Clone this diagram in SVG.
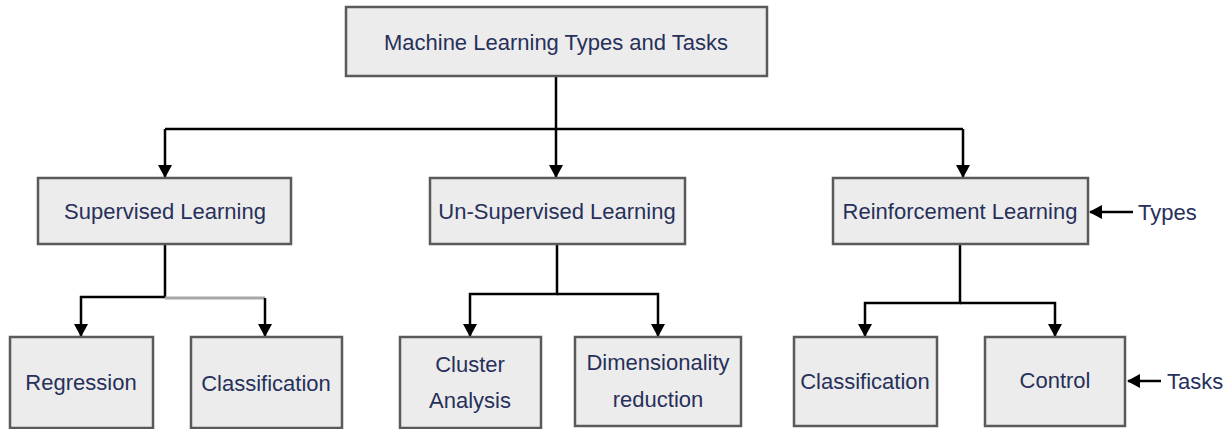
<svg xmlns="http://www.w3.org/2000/svg" width="1227" height="429" viewBox="0 0 1227 429">
<style>
.box{fill:#ececec;stroke:#5a5a5a;stroke-width:2.5}
.t{font-family:"Liberation Sans",Arial,sans-serif;font-size:22px;fill:#27305a;text-anchor:middle}
.tl{font-family:"Liberation Sans",Arial,sans-serif;font-size:22px;fill:#27305a;text-anchor:start}
.ln{fill:none;stroke:#000;stroke-width:2.5}
.lg{fill:none;stroke:#a8a8a8;stroke-width:3}
</style>
<defs>
<marker id="ah" viewBox="0 0 13 14" refX="12" refY="7" markerWidth="13" markerHeight="14" markerUnits="userSpaceOnUse" orient="auto">
<path d="M0,0 L13,7 L0,14 Z" fill="#000"/>
</marker>
</defs>
<rect width="1227" height="429" fill="#fff"/>
<g id="connectors">
<path class="ln" d="M556,76 V129"/>
<path class="ln" d="M165,129 H963" stroke-width="3"/>
<path class="ln" d="M556,129 V177" marker-end="url(#ah)"/>
<path class="ln" d="M165,129 V177" marker-end="url(#ah)"/>
<path class="ln" d="M963,129 V177" marker-end="url(#ah)"/>
<path class="ln" d="M165,245 V297 H81 V336" marker-end="url(#ah)"/>
<path class="lg" d="M165,298 H265"/>
<path class="ln" d="M265,298 V336" marker-end="url(#ah)"/>
<path class="ln" d="M557,245 V294 H470 V336" marker-end="url(#ah)"/>
<path class="ln" d="M557,294 H658 V336" marker-end="url(#ah)"/>
<path class="ln" d="M960,245 V303 H865 V336" marker-end="url(#ah)"/>
<path class="ln" d="M960,303 H1055 V336" marker-end="url(#ah)"/>
<path class="ln" d="M1133,212 H1090" marker-end="url(#ah)"/>
<path class="ln" d="M1161,381 H1128" marker-end="url(#ah)"/>
</g>
<g id="root">
<rect class="box" x="346" y="7" width="421" height="69"/>
<text class="t" x="556" y="49.5">Machine Learning Types and Tasks</text>
</g>
<g id="supervised">
<rect class="box" x="38" y="178" width="253" height="66"/>
<text class="t" x="165" y="219">Supervised Learning</text>
</g>
<g id="unsupervised">
<rect class="box" x="430" y="178" width="255" height="66"/>
<text class="t" x="557" y="219">Un-Supervised Learning</text>
</g>
<g id="reinforcement">
<rect class="box" x="833" y="178" width="255" height="66"/>
<text class="t" x="960" y="219">Reinforcement Learning</text>
</g>
<g id="regression">
<rect class="box" x="10" y="337" width="143" height="91"/>
<text class="t" x="81" y="390">Regression</text>
</g>
<g id="classification1">
<rect class="box" x="191" y="337" width="151" height="91"/>
<text class="t" x="266" y="391">Classification</text>
</g>
<g id="cluster">
<rect class="box" x="400" y="337" width="141" height="91"/>
<text class="t" x="470" y="372">Cluster</text>
<text class="t" x="470" y="408">Analysis</text>
</g>
<g id="dimensionality">
<rect class="box" x="575" y="337" width="166" height="89"/>
<text class="t" x="658" y="370">Dimensionality</text>
<text class="t" x="658" y="407">reduction</text>
</g>
<g id="classification2">
<rect class="box" x="794" y="337" width="143" height="89"/>
<text class="t" x="865" y="389">Classification</text>
</g>
<g id="control">
<rect class="box" x="985" y="337" width="140" height="89"/>
<text class="t" x="1055" y="388">Control</text>
</g>
<g id="types-label">
<text class="tl" x="1138" y="220">Types</text>
</g>
<g id="tasks-label">
<text class="tl" x="1167" y="389">Tasks</text>
</g>
</svg>
